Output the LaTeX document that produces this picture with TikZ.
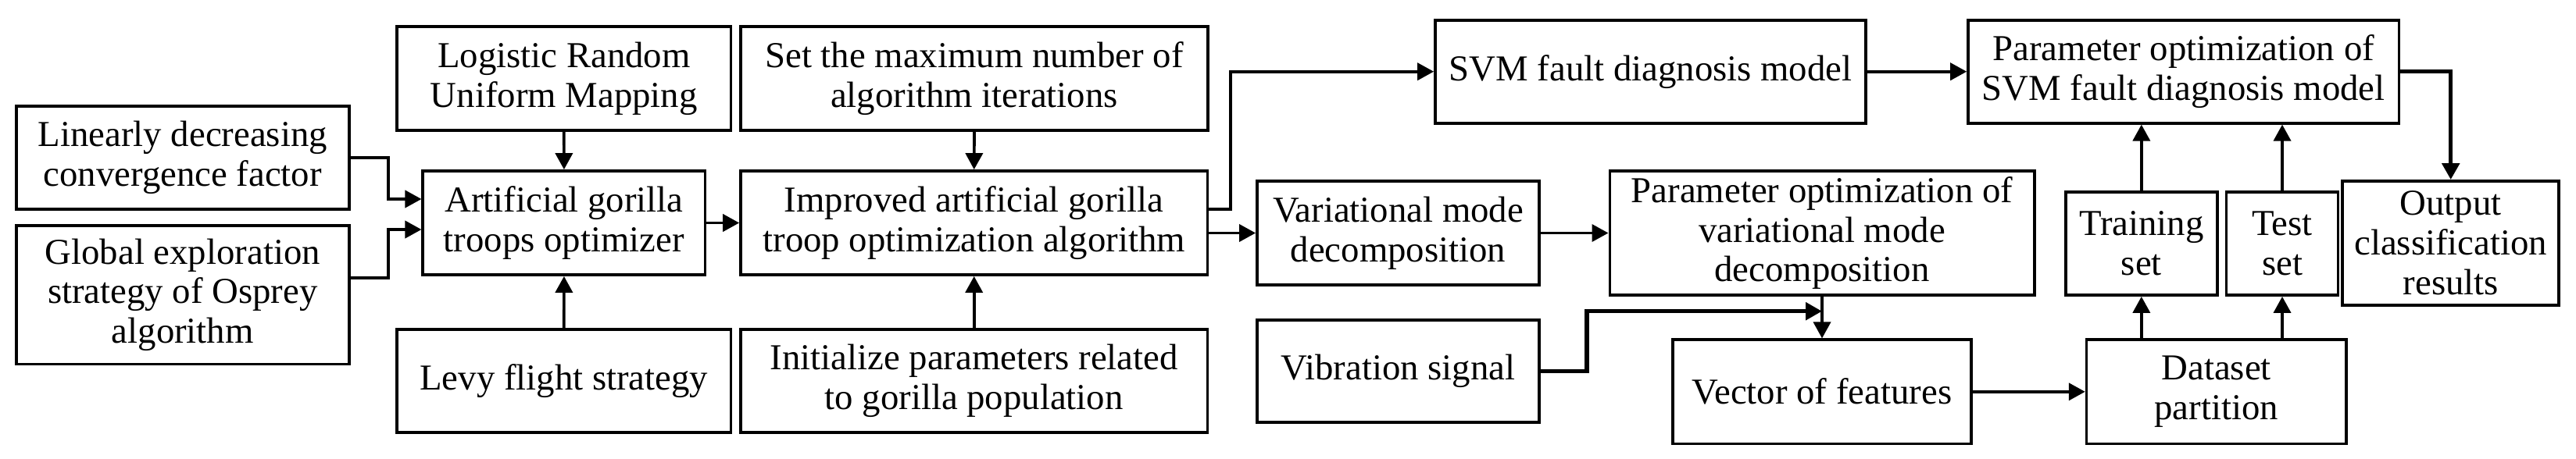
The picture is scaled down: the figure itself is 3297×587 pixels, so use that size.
\documentclass[tikz,border=0pt]{standalone}
\usepackage{fontspec}
\setmainfont{Liberation Serif}
\usetikzlibrary{arrows.meta}

\begin{document}
\begin{tikzpicture}[x=0.01cm,y=-0.01cm,
  box/.style={draw,line width=1.05pt,align=center,inner sep=0pt,font=\fontsize{13.3}{14.5}\selectfont},
  arr/.style={line width=1.05pt,-{Triangle[length=2.1mm,width=2.2mm]}},
  thickarr/.style={arr,line width=1.5pt}]
\useasboundingbox (0,0) rectangle (3297,587);
\node[box,minimum width=4.26cm,minimum height=1.32cm] (lin) at (233.8,201.8) {Linearly decreasing\\convergence factor};
\node[box,minimum width=4.26cm,minimum height=1.77cm] (glob) at (233.8,377.8) {Global exploration\\strategy of Osprey\\algorithm};
\node[box,minimum width=4.27cm,minimum height=1.33cm] (logi) at (721.8,100.4) {Logistic Random\\Uniform Mapping};
\node[box,minimum width=3.61cm,minimum height=1.33cm] (agto) at (721.9,285.5) {Artificial gorilla\\troops optimizer};
\node[box,minimum width=4.27cm,minimum height=1.32cm] (levy) at (721.8,488) {Levy flight strategy};
\node[box,minimum width=5.97cm,minimum height=1.33cm] (setmax) at (1247,100.4) {Set the maximum number of\\algorithm iterations};
\node[box,minimum width=5.97cm,minimum height=1.33cm] (iagto) at (1246.7,285.5) {Improved artificial gorilla\\troop optimization algorithm};
\node[box,minimum width=5.97cm,minimum height=1.32cm] (init) at (1246.7,488) {Initialize parameters related\\to gorilla population};
\node[box,minimum width=5.51cm,minimum height=1.32cm] (svm) at (2112.6,91.7) {SVM fault diagnosis model};
\node[box,minimum width=3.61cm,minimum height=1.33cm] (vmd) at (1789.5,298.5) {Variational mode\\decomposition};
\node[box,minimum width=3.61cm,minimum height=1.31cm] (vib) at (1789.5,475.5) {Vibration signal};
\node[box,minimum width=5.43cm,minimum height=1.59cm] (pvmd) at (2332,298.5) {Parameter optimization of\\variational mode\\decomposition};
\node[box,minimum width=3.82cm,minimum height=1.33cm] (vec) at (2332,501.8) {Vector of features};
\node[box,minimum width=5.51cm,minimum height=1.32cm] (psvm) at (2794.7,91.7) {Parameter optimization of\\SVM fault diagnosis model};
\node[box,minimum width=1.94cm,minimum height=1.32cm] (train) at (2740.8,312) {Training\\set};
\node[box,minimum width=1.43cm,minimum height=1.32cm] (test) at (2921,312) {Test\\set};
\node[box,minimum width=3.32cm,minimum height=1.33cm] (dset) at (2836.7,501.8) {Dataset\\partition};
\node[box,minimum width=2.77cm,minimum height=1.59cm] (out) at (3136.7,311.5) {Output\\classification\\results};
\coordinate (jn) at (2332,398.7);
\draw[arr] (lin.east) -- ++(48,0) |- ([yshift=0.305cm]agto.west);
\draw[arr] ([yshift=0.22cm]glob.east) -- ++(48,0) |- ([yshift=-0.085cm]agto.west);
\draw[arr] (logi.south) -- (agto.north);
\draw[arr] (levy.north) -- (agto.south);
\draw[arr] (agto.east) -- (iagto.west);
\draw[arr] (setmax.south) -- (iagto.north);
\draw[arr] (init.north) -- (iagto.south);
\draw[arr] ([yshift=0.175cm]iagto.east) -- ++(28,0) |- (svm.west);
\draw[arr] (iagto.east |- vmd.west) -- (vmd.west);
\draw[arr] (vmd.east) -- (pvmd.west);
\draw[arr] (svm.east) -- (psvm.west);
\draw[thickarr] (vib.east) -- ++(59,0) |- (jn);
\draw[arr] (pvmd.south) -- (vec.north);
\draw[arr] (vec.east) -- (dset.west);
\draw[arr] (train.south |- dset.north) -- (train.south);
\draw[arr] (train.north) -- (train.north |- psvm.south);
\draw[arr] (test.south |- dset.north) -- (test.south);
\draw[arr] (test.north) -- (test.north |- psvm.south);
\draw[thickarr] (psvm.east) -| (out.north);
\end{tikzpicture}
\end{document}
